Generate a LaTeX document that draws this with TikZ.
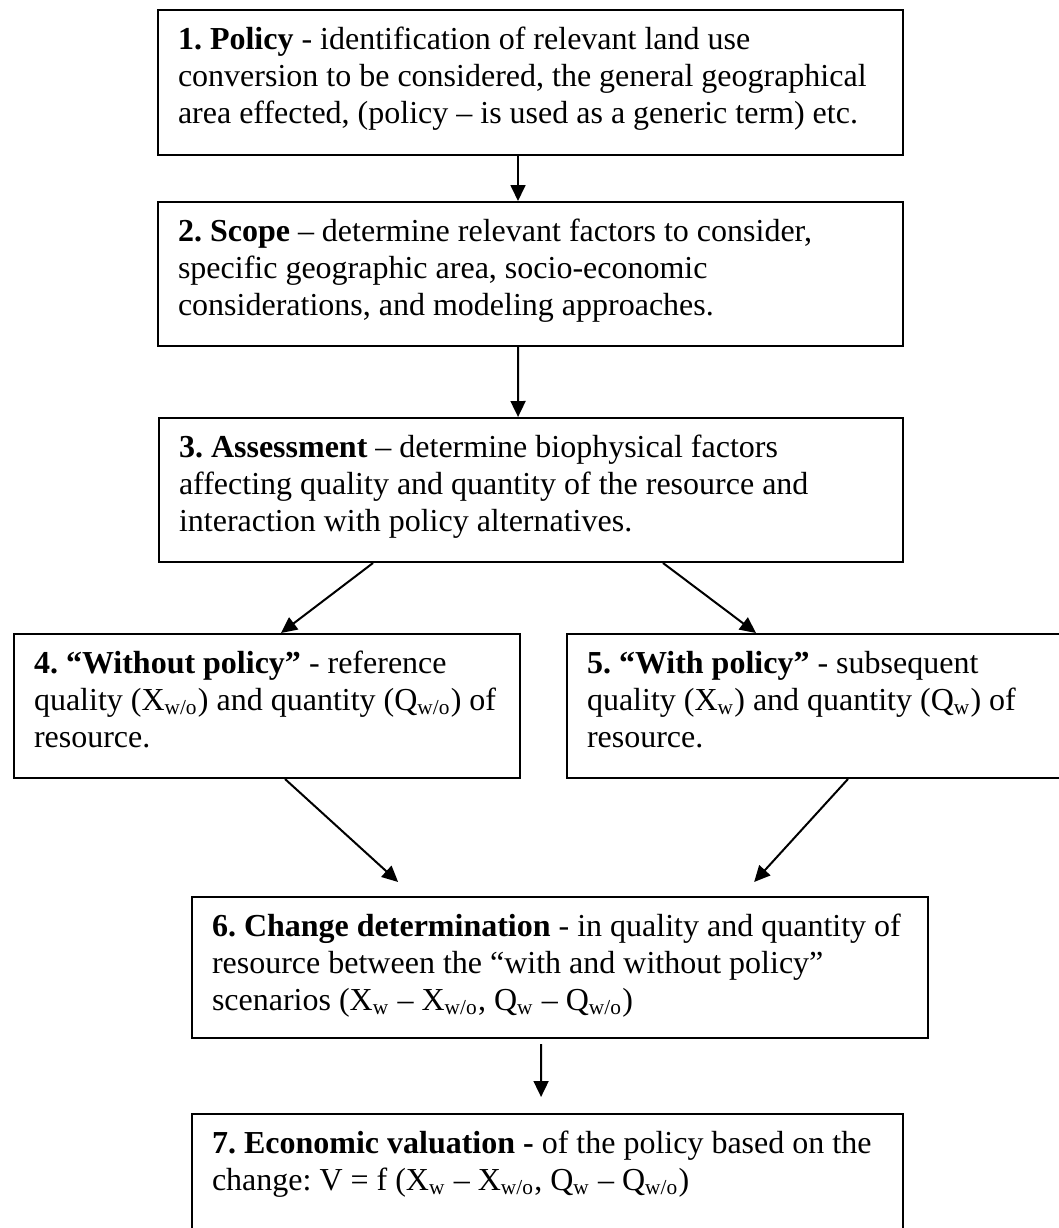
\documentclass[tikz,border=0pt]{standalone}
\usepackage{fontspec}
\setmainfont{Liberation Serif}
\usetikzlibrary{arrows.meta}
\frenchspacing
\tikzset{
  stage/.style={draw, line width=0.75pt, anchor=north west, inner xsep=7.5pt, inner ysep=4.9pt,
    font=\fontsize{12}{13.9}\selectfont},
  flow/.style={-{Triangle[length=6pt,width=5.6pt]}, line width=0.75pt}
}
\newcommand{\stagetext}[3]{\parbox[t][#2][t]{#1}{\raggedright\strut#3}}
\begin{document}
\begin{tikzpicture}
  \path[use as bounding box, fill=white] (0,0) rectangle (396.75pt,-460.5pt);
  \node[stage] (policy) at (58.875pt,-3.375pt) {\stagetext{264.4pt}{44.6pt}{\textbf{1. Policy} - identification of relevant land use\\ conversion to be considered, the general geographical\\ area effected, (policy – is used as a generic term) etc.}};
  \node[stage] (scope) at (58.875pt,-75.375pt) {\stagetext{264.4pt}{44.2pt}{\textbf{2. Scope} – determine relevant factors to consider,\\ specific geographic area, socio-economic\\ considerations, and modeling approaches.}};
  \node[stage] (assess) at (59.25pt,-156.375pt) {\stagetext{264pt}{44.2pt}{\textbf{3. Assessment} – determine biophysical factors\\ affecting quality and quantity of the resource and\\ interaction with policy alternatives.}};
  \node[stage] (without) at (4.875pt,-237.375pt) {\stagetext{174.75pt}{44.2pt}{\textbf{4. “Without policy”} - reference\\ quality (X\textsubscript{w/o}) and quantity (Q\textsubscript{w/o}) of\\ resource.}};
  \node[stage] (with) at (212.25pt,-237.375pt) {\stagetext{174.75pt}{44.2pt}{\textbf{5. “With policy”} - subsequent\\ quality (X\textsubscript{w}) and quantity (Q\textsubscript{w}) of\\ resource.}};
  \node[stage] (change) at (71.625pt,-336pt) {\stagetext{261pt}{43.1pt}{\textbf{6. Change determination} - in quality and quantity of\\ resource between the “with and without policy”\\ scenarios (X\textsubscript{w} – X\textsubscript{w/o}, Q\textsubscript{w} – Q\textsubscript{w/o})}};
  \node[stage] (value) at (71.625pt,-417.375pt) {\stagetext{251.6pt}{50.2pt}{\textbf{7. Economic valuation -} of the policy based on the\\ change: V = f (X\textsubscript{w} – X\textsubscript{w/o}, Q\textsubscript{w} – Q\textsubscript{w/o})}};
  \draw[flow] ([xshift=-4.7pt]policy.south) -- ([xshift=-4.7pt]scope.north);
  \draw[flow] ([xshift=-4.7pt]scope.south) -- ([xshift=-4.85pt]assess.north);
  \draw[flow] ([xshift=-59.25pt]assess.south) -- ([xshift=5.25pt]without.north);
  \draw[flow] ([xshift=49.5pt]assess.south) -- ([xshift=-24pt]with.north);
  \draw[flow] ([xshift=6.75pt]without.south) -- ([shift={(-60.7pt,5.25pt)}]change.north);
  \draw[flow] ([xshift=10.5pt]with.south) -- ([shift={(72.8pt,5.25pt)}]change.north);
  \draw[flow] ([shift={(-7.1pt,-1.9pt)}]change.south) -- ([shift={(-2.4pt,6pt)}]value.north);
\end{tikzpicture}
\end{document}
